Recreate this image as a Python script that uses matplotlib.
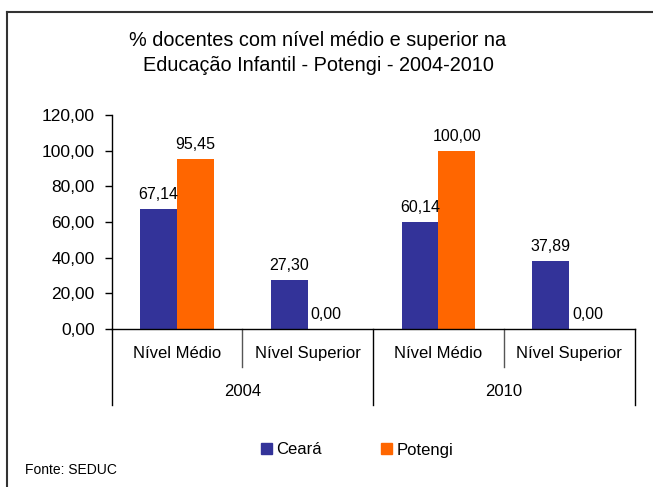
import matplotlib
matplotlib.use("Agg")
import matplotlib.pyplot as plt
from matplotlib.lines import Line2D
from matplotlib.patches import Patch
import numpy as np

plt.rcParams['font.family'] = ['Liberation Sans', 'DejaVu Sans']

categories = ["Nível Médio", "Nível Superior", "Nível Médio", "Nível Superior"]
years = ["2004", "2010"]
ceara = [67.14, 27.30, 60.14, 37.89]
potengi = [95.45, 0.00, 100.00, 0.00]
series_names = ["Ceará", "Potengi"]
yticks = [0, 20, 40, 60, 80, 100, 120]
title_lines = ["% docentes com nível médio e superior na",
               "Educação Infantil - Potengi - 2004-2010"]
source = "Fonte: SEDUC"

c_blue = "#333399"
c_orange = "#FF6600"

W, H = 653, 487
fig = plt.figure(figsize=(W/100, H/100), dpi=100)
fig.patch.set_facecolor("white")

ax_l, ax_r, ax_t, ax_b = 111.5, 634.5, 115, 329
ax = fig.add_axes([ax_l/W, 1-ax_b/H, (ax_r-ax_l)/W, (ax_b-ax_t)/H])
ax_h = ax_b - ax_t

x = np.arange(len(categories))
bw = 0.282
b1 = ax.bar(x - bw/2, ceara, bw, color=c_blue, label=series_names[0])
b2 = ax.bar(x + bw/2, potengi, bw, color=c_orange, label=series_names[1])

for bars, vals in ((b1, ceara), (b2, potengi)):
    for rect, v in zip(bars, vals):
        ax.annotate(f"{v:.2f}".replace(".", ","),
                    (rect.get_x() + rect.get_width()/2, v),
                    xytext=(0, 7.2), textcoords="offset points",
                    ha="center", va="baseline", fontsize=11.5)

ax.set_xlim(-0.5, len(categories) - 0.5)
ax.set_ylim(0, 120)
ax.set_yticks(yticks)
ax.set_yticklabels([f"{t:.2f}".replace(".", ",") for t in yticks], fontsize=12.5)
ax.tick_params(axis="y", direction="out", length=5, width=1, pad=7)
ax.set_xticks(x)
ax.set_xticklabels(categories, fontsize=12)
ax.tick_params(axis="x", length=0, pad=12)
for s in ("top", "right"):
    ax.spines[s].set_visible(False)
for s in ("left", "bottom"):
    ax.spines[s].set_linewidth(1)
    ax.spines[s].set_color("black")

trans = ax.get_xaxis_transform()
outer_end = (405 - ax_b) / ax_h
inner_end = (367 - ax_b) / ax_h
for i in range(len(categories) + 1):
    xb = i - 0.5
    yend = -outer_end if i % 2 == 0 else -inner_end
    ax.add_line(Line2D([xb, xb], [0, yend], transform=trans,
                       color="black" if i % 2 == 0 else "#555555",
                       lw=1, clip_on=False))

for j, yr in enumerate(years):
    ax.text(2*j + 0.5, -(392 - ax_b) / ax_h, yr, transform=trans,
            ha="center", va="center", fontsize=12)

for yb, line in zip((46, 71), title_lines):
    fig.text(318/W, 1 - yb/H, line, ha="center", va="baseline", fontsize=14.3)

handles = [Patch(color=c_blue), Patch(color=c_orange)]
fig.legend(handles, series_names, loc="center", bbox_to_anchor=(357/W, 1 - 450/H),
           ncol=2, frameon=False, fontsize=12, handlelength=0.65, handleheight=0.65,
           handletextpad=0.25, columnspacing=3.6)

fig.text(25/W, 1 - 470/H, source, ha="left", va="center", fontsize=10)

fig.add_artist(Line2D([7/W, 1], [1 - 12/H, 1 - 12/H], color="#333333", lw=1.5))
fig.add_artist(Line2D([7/W, 7/W], [0, 1 - 12/H], color="#333333", lw=1.5))

fig.savefig("out.png", dpi=100)
